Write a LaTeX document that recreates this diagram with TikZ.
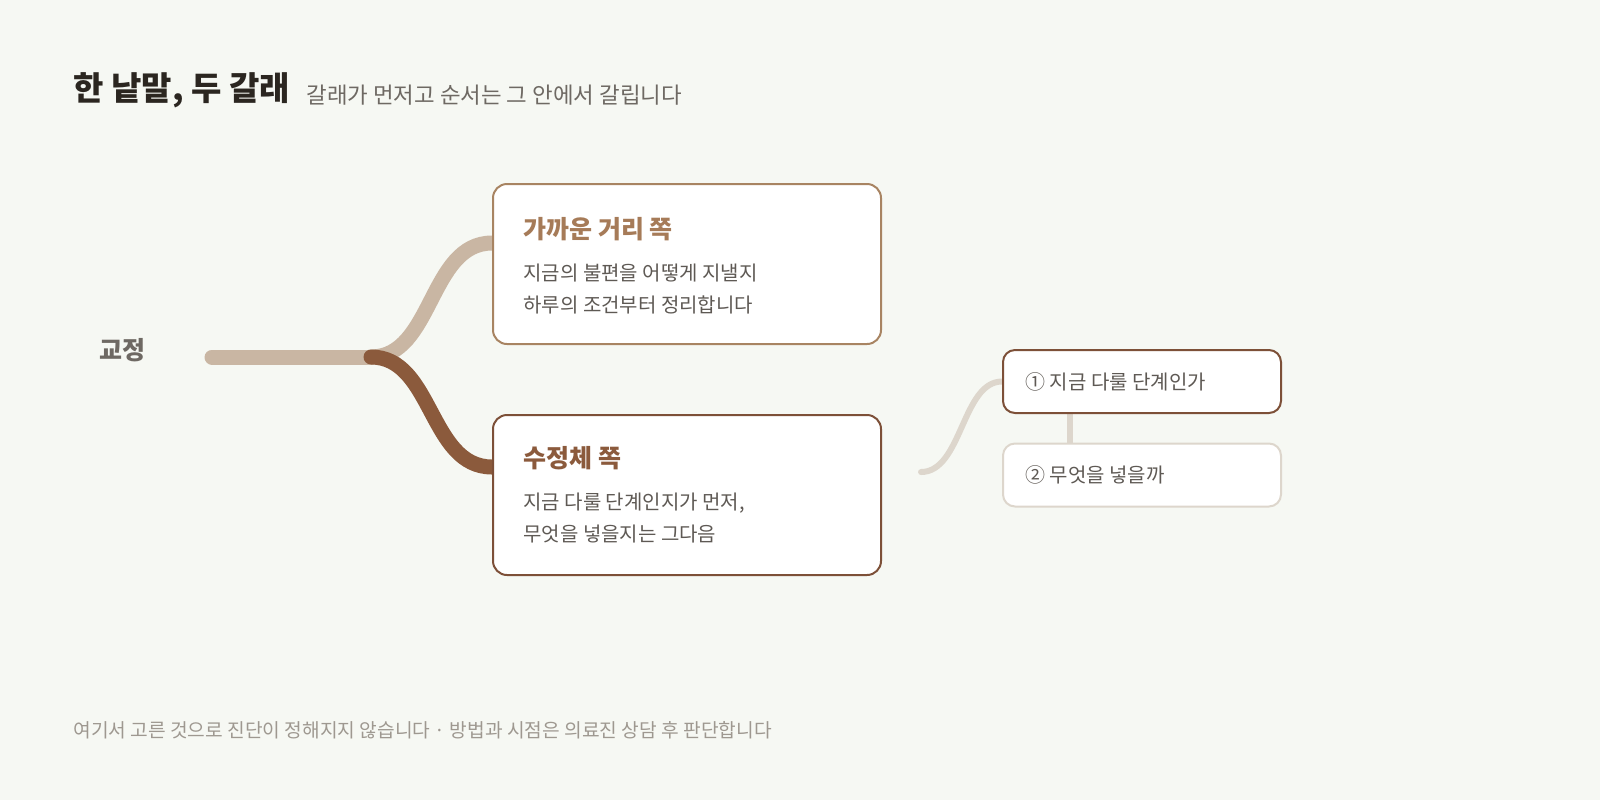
\documentclass[tikz,border=0pt]{standalone}
\usepackage{fontspec}
\setmainfont{Noto Sans CJK KR}
\definecolor{paper}{HTML}{F6F8F3}
\definecolor{ink}{HTML}{2B2620}
\definecolor{greytext}{HTML}{6E6963}
\definecolor{bodytext}{HTML}{5E5954}
\definecolor{foottext}{HTML}{9E9890}
\definecolor{tan}{HTML}{C9B6A3}
\definecolor{tanedge}{HTML}{A88462}
\definecolor{tantitle}{HTML}{A67B58}
\definecolor{brown}{HTML}{8B5A3C}
\definecolor{brownedge}{HTML}{7D5038}
\definecolor{pale}{HTML}{DDD6CC}
\pgfdeclarelayer{paperlayer}
\pgfdeclarelayer{wires}
\pgfsetlayers{paperlayer,wires,main}
\begin{document}
\begin{tikzpicture}[x=0.5pt,y=-0.5pt,
  card/.style={draw,fill=white,line width=1pt,rounded corners=7pt,minimum width=194pt,minimum height=80pt,inner sep=0pt},
  chip/.style={draw,fill=white,line width=1pt,rounded corners=6pt,minimum width=139pt,minimum height=31.5pt,inner sep=0pt},
  txt/.style={anchor=base west,inner sep=0pt},
  body/.style={txt,text=bodytext,font=\fontsize{10}{12}\selectfont},
  branch/.style={line width=7.5pt,line cap=round}]
\begin{pgfonlayer}{paperlayer}
\fill[paper] (0,0) rectangle (1600,800);
\end{pgfonlayer}

\node[txt,text=ink,font=\fontsize{16.5}{19}\selectfont\bfseries] (title) at (73,100) {한 낱말, 두 갈래};
\node[txt,text=greytext,font=\fontsize{11.2}{13}\selectfont] (subtitle) at (306,103.5) {갈래가 먼저고 순서는 그 안에서 갈립니다};

\node[txt,text=greytext,font=\fontsize{12.5}{15}\selectfont\bfseries] (root) at (99,359.5) {교정};
\coordinate (start) at (212,357);
\coordinate (fork) at (371,357);

\node[card,draw=tanedge] (near) at (687,264) {};
\node[card,draw=brownedge] (lens) at (687,495) {};
\node[txt,text=tantitle,font=\fontsize{12.5}{15}\selectfont\bfseries] (neartitle) at (523,238.5) {가까운 거리 쪽};
\node[body] (nearone) at (523,280.5) {지금의 불편을 어떻게 지낼지};
\node[body] (neartwo) at (523,312.5) {하루의 조건부터 정리합니다};
\node[txt,text=brown,font=\fontsize{12.5}{15}\selectfont\bfseries] (lenstitle) at (523,467.5) {수정체 쪽};
\node[body] (lensone) at (523,509.5) {지금 다룰 단계인지가 먼저,};
\node[body] (lenstwo) at (523,541) {무엇을 넣을지는 그다음};

\node[chip,draw=brownedge] (step1) at (1142,381.5) {};
\node[chip,draw=pale] (step2) at (1142,475) {};
\node[body] (stepone) at (1025,389) {① 지금 다룰 단계인가};
\node[body] (steptwo) at (1025,482.5) {② 무엇을 넣을까};
\coordinate (tail) at (921,472);

\begin{pgfonlayer}{wires}
\draw[branch,tan] (start) -- (fork);
\draw[branch,tan] (fork) .. controls (433,357) and (429,243) .. ([yshift=10.5pt]near.west);
\draw[branch,brown] (fork) .. controls (433,357) and (429,467) .. ([yshift=14pt]lens.west);
\draw[pale,line width=3pt,line cap=round] (tail) .. controls (962,472) and (962,381.5) .. (step1.west);
\draw[pale,line width=3pt] ([xshift=34pt]step1.south west) -- ([xshift=34pt]step2.north west);
\end{pgfonlayer}

\node[txt,text=foottext,font=\fontsize{9.6}{12}\selectfont] (footer) at (73,737) {여기서 고른 것으로 진단이 정해지지 않습니다 · 방법과 시점은 의료진 상담 후 판단합니다};
\end{tikzpicture}
\end{document}
